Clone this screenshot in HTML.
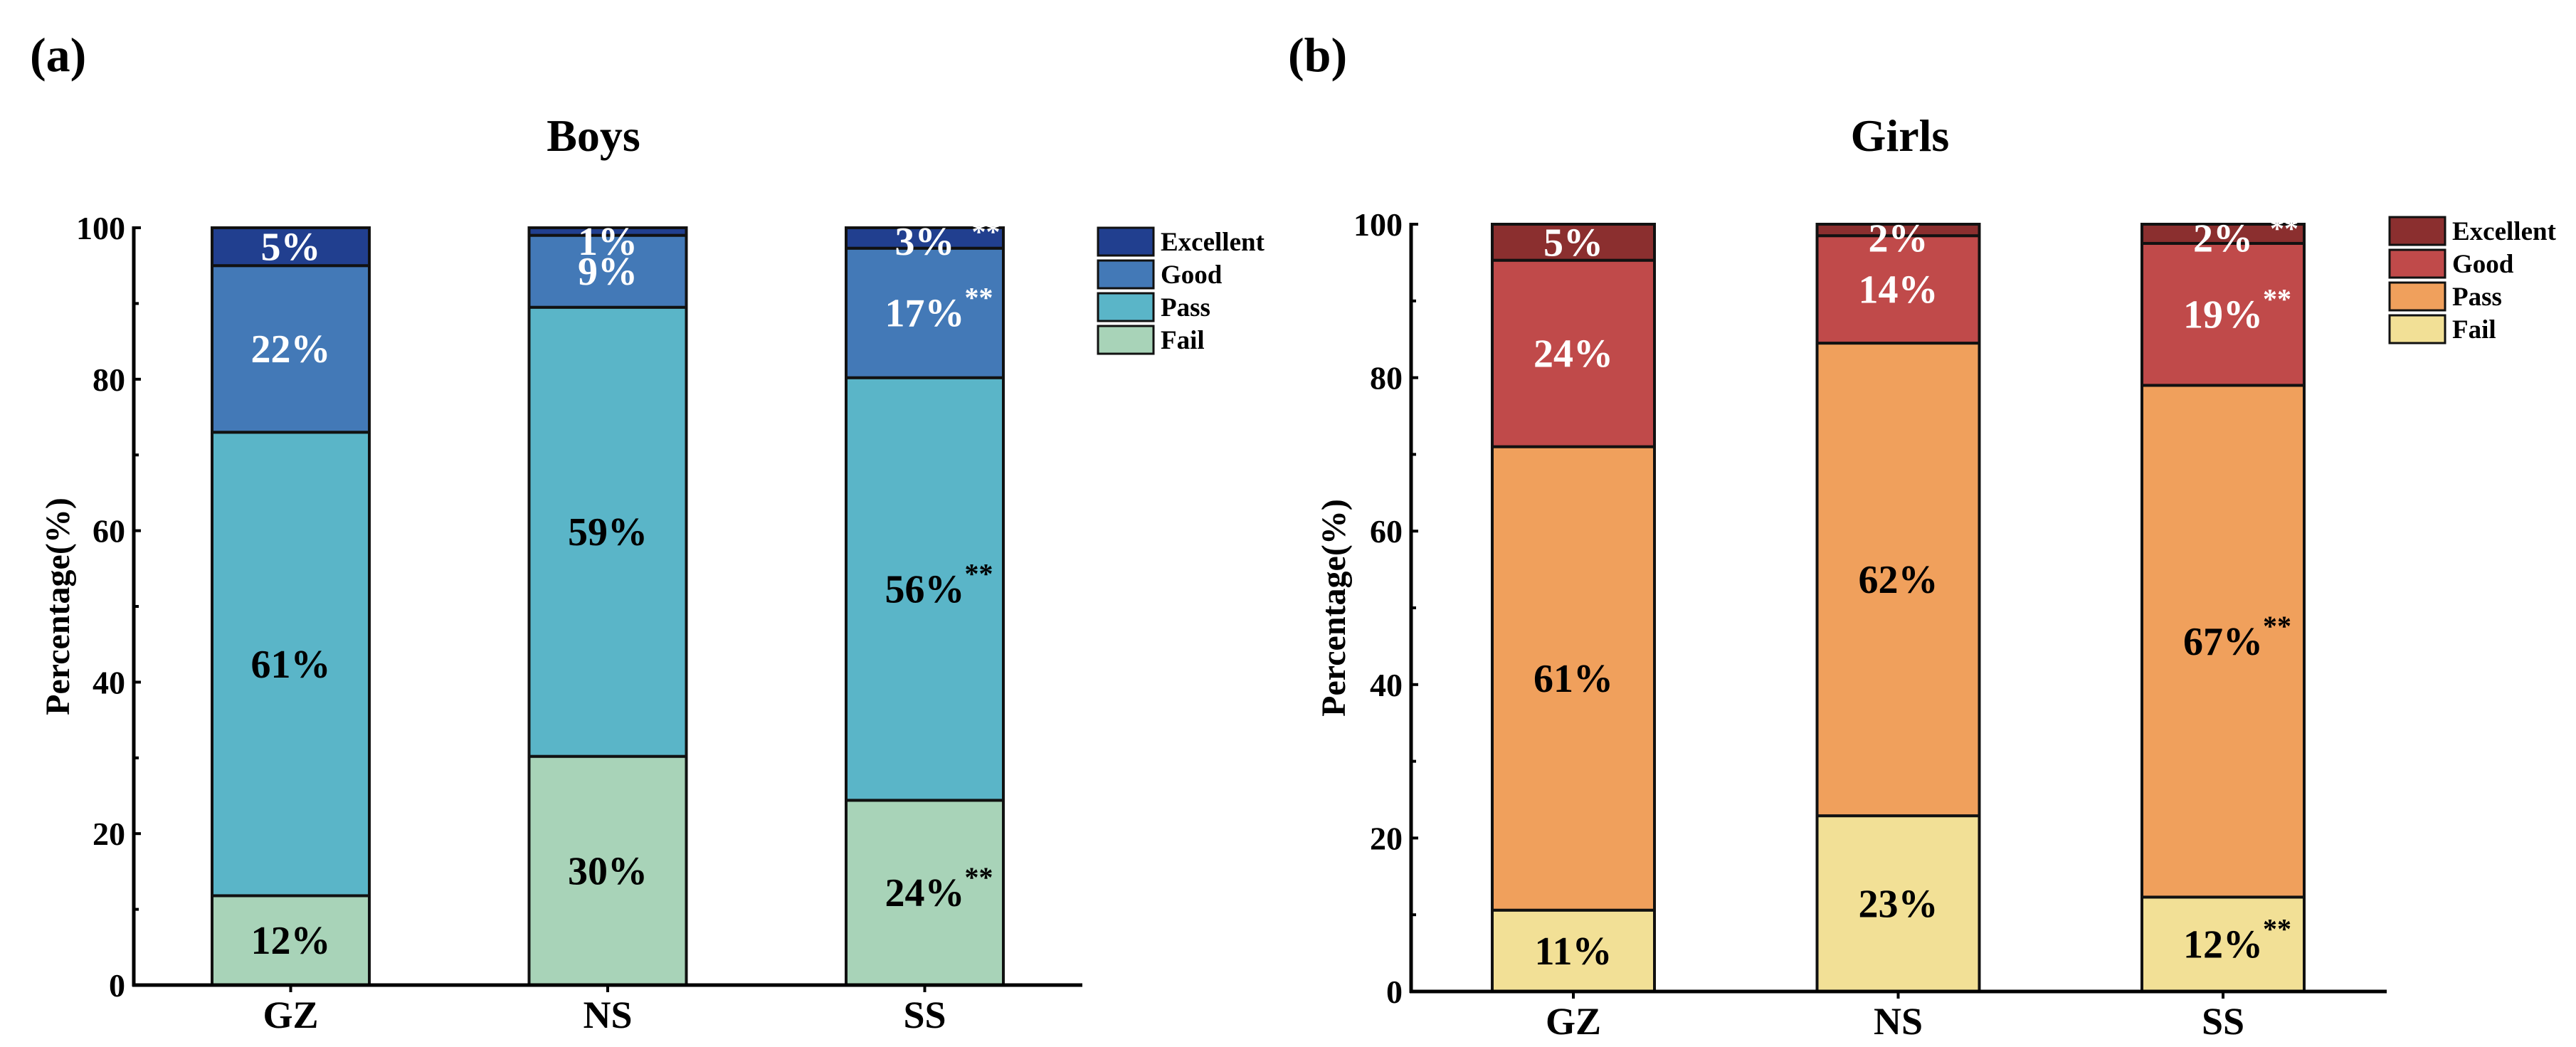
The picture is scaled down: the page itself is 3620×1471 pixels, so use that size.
<!DOCTYPE html>
<html><head><meta charset="utf-8">
<style>
html,body{margin:0;padding:0;background:#fff;}
svg{display:block;font-family:"Liberation Serif",serif;font-weight:bold;}
</style></head>
<body>
<svg id="chart" width="3620" height="1471" viewBox="0 0 3620 1471" xmlns="http://www.w3.org/2000/svg"></svg>
<script>
const categories = ["GZ", "NS", "SS"];
const seriesNames = ["Fail", "Pass", "Good", "Excellent"];
const boysFail = [11.8, 30.2, 24.4];
const boysPass = [61.2, 59.3, 55.8];
const boysGood = [22.0, 9.5, 17.1];
const boysExcellent = [5.0, 1.0, 2.7];
const girlsFail = [10.6, 22.9, 12.3];
const girlsPass = [60.4, 61.6, 66.7];
const girlsGood = [24.3, 14.0, 18.5];
const girlsExcellent = [4.7, 1.5, 2.5];
const boysLabels = [["12%","30%","24%"],["61%","59%","56%"],["22%","9%","17%"],["5%","1%","3%"]];
const girlsLabels = [["11%","23%","12%"],["61%","62%","67%"],["24%","14%","19%"],["5%","2%","2%"]];
const significant = [false, false, true];
const yTicks = [0, 20, 40, 60, 80, 100];
const yMinorTicks = [10, 30, 50, 70, 90];

const NS = "http://www.w3.org/2000/svg";
const svg = document.getElementById("chart");
function mk(tag, attrs, parent, text) {
  const e = document.createElementNS(NS, tag);
  for (const k in attrs) e.setAttribute(k, attrs[k]);
  if (text !== undefined) e.textContent = text;
  (parent || svg).appendChild(e);
  return e;
}

function panel(cfg) {
  const g = mk("g", {});
  
  
  const y = v => cfg.y0 - (cfg.y0 - cfg.y100) * v / 100;
  const xc = i => cfg.barStart + cfg.barWidth / 2 + i * cfg.barStep;

  const pl = mk("text", {x: cfg.panelX, y: 100, "font-size": 68}, g, cfg.panelLabel);
  
  
  const t = mk("text", {x: cfg.titleX, y: 212, "font-size": 64, "text-anchor": "middle"}, g, cfg.title);
  
  

  const series = cfg.series;
  for (let i = 0; i < categories.length; i++) {
    let base = 0;
    for (let s = 0; s < series.length; s++) {
      const v = series[s][i];
      const r = mk("rect", {x: cfg.barStart + i * cfg.barStep, y: y(base + v), width: cfg.barWidth,
        height: y(base) - y(base + v), fill: cfg.colors[s], stroke: "#111", "stroke-width": 4}, g);
      
      
      base += v;
    }
  }
  base = [0,0,0];
  for (let i = 0; i < categories.length; i++) {
    let b = 0;
    for (let s = 0; s < series.length; s++) {
      const v = series[s][i];
      let c = b + v / 2;
      if (s === 3) c = Math.min(c, 98.2);
      const col = s >= 2 ? "#fff" : "#000";
      const lab = mk("text", {x: xc(i), y: y(c) + 19, "font-size": 56, "text-anchor": "middle", fill: col}, g, cfg.labels[s][i]);
      
      
      if (significant[i]) {
        const st = mk("text", {x: xc(i) + (s === 3 ? 66 : 56), y: y(c) - (s === 3 ? 0 : 8), "font-size": 40, fill: col}, g, "**");
        
        
      }
      b += v;
    }
  }

  // axes
  const ya = mk("line", {x1: cfg.axisX, y1: cfg.y100 - 2, x2: cfg.axisX, y2: cfg.y0 + 2, stroke: "#000", "stroke-width": 5}, g);
  
  
  const xa = mk("line", {x1: cfg.axisX - 2, y1: cfg.y0, x2: cfg.axisEnd, y2: cfg.y0, stroke: "#000", "stroke-width": 5}, g);
  
  
  yTicks.forEach(v => {
    mk("line", {x1: cfg.axisX, y1: y(v), x2: cfg.axisX + 10, y2: y(v), stroke: "#000", "stroke-width": 4}, g);
    const tl = mk("text", {x: cfg.axisX - 12, y: y(v) + 16, "font-size": 46, "text-anchor": "end"}, g, String(v));
    
    
  });
  yMinorTicks.forEach(v => mk("line", {x1: cfg.axisX, y1: y(v), x2: cfg.axisX + 7, y2: y(v), stroke: "#000", "stroke-width": 4}, g));
  categories.forEach((c, i) => {
    mk("line", {x1: xc(i), y1: cfg.y0, x2: xc(i), y2: cfg.y0 + 10, stroke: "#000", "stroke-width": 4}, g);
    const xl = mk("text", {x: xc(i), y: cfg.y0 + 60, "font-size": 54, "text-anchor": "middle"}, g, c);
    
    
  });
  const yt = mk("text", {x: 0, y: 0, "font-size": 48, "text-anchor": "middle",
    transform: "translate(" + (cfg.yTitleX) + "," + ((cfg.y0 + cfg.y100) / 2) + ") rotate(-90)"}, g, "Percentage(%)");
  
  

  // legend
  for (let k = 0; k < 4; k++) {
    const s = 3 - k;
    const ly = cfg.legY + k * 46;
    const lr = mk("rect", {x: cfg.legX, y: ly, width: 78, height: 39, fill: cfg.colors[s], stroke: "#111", "stroke-width": 3}, g);
    
    
    const lt = mk("text", {x: cfg.legX + 88, y: ly + 32, "font-size": 37}, g, seriesNames[s]);
    
    
  }
}

panel({name: "boys-chart", panelLabel: "(a)", panelX: 42, title: "Boys", titleX: 834,
  y0: 1384, y100: 320, axisX: 188, axisEnd: 1521, barStart: 298, barWidth: 221, barStep: 445.5,
  yTitleX: 97, legX: 1543, legY: 320,
  series: [boysFail, boysPass, boysGood, boysExcellent], labels: boysLabels,
  colors: ["#a8d3b8", "#5ab5c8", "#4379b7", "#213f8f"]});
panel({name: "girls-chart", panelLabel: "(b)", panelX: 1810, title: "Girls", titleX: 2670,
  y0: 1393, y100: 315, axisX: 1983, axisEnd: 3354, barStart: 2097, barWidth: 228, barStep: 456.5,
  yTitleX: 1890, legX: 3358, legY: 305,
  series: [girlsFail, girlsPass, girlsGood, girlsExcellent], labels: girlsLabels,
  colors: ["#f2e096", "#f0a05c", "#c04a4a", "#8b2f2f"]});
</script>
</body></html>
